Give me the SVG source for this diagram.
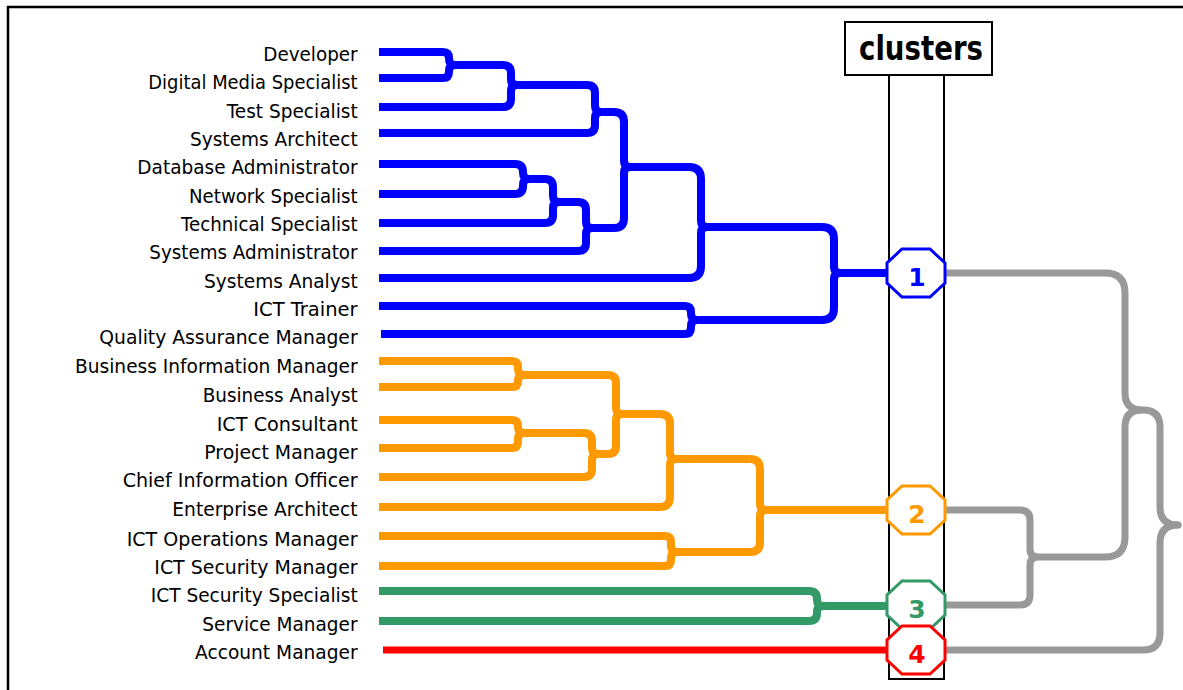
<svg xmlns="http://www.w3.org/2000/svg" width="1183" height="690" viewBox="0 0 1183 690">
<style>
.lbl{font-family:"DejaVu Sans","Liberation Sans",sans-serif;font-size:20px;fill:#000}
.ln{fill:none;stroke-width:8;stroke-linejoin:round;stroke-linecap:butt}
.b{stroke:#0000ff}.o{stroke:#ff9900}.g{stroke:#339966}.r{stroke:#ff0000;stroke-width:7}
.gr{fill:none;stroke:#999999;stroke-width:7;stroke-linejoin:round}
.oct{fill:#fff;stroke-width:3}
.num{font-family:"DejaVu Sans","Liberation Sans",sans-serif;font-size:25px;font-weight:bold;text-anchor:middle}
</style>
<defs>
<polygon id="octa" points="-14,-24 14,-24 29,-10 29,10 14,24 -14,24 -29,10 -29,-10"/>
</defs>
<rect x="0" y="0" width="1183" height="690" fill="#fff"/>
<rect x="8" y="7" width="1200" height="720" fill="none" stroke="#000" stroke-width="2.5"/>
<g id="clusters-header">
<rect x="889" y="75" width="55" height="604" fill="none" stroke="#000" stroke-width="2"/>
<rect x="845" y="22" width="147" height="53" fill="#fff" stroke="#000" stroke-width="2"/>
<text x="859" y="60" textLength="124" lengthAdjust="spacingAndGlyphs" style="font-family:'DejaVu Sans','Liberation Sans',sans-serif;font-size:33px;font-weight:bold">clusters</text>
</g>
<g id="connectors">
<path class="ln b" d="M379 52 H443 Q449 52 449 58 V59 Q449 65 455 65"/>
<path class="ln b" d="M379 78 H443 Q449 78 449 72 V71 Q449 65 455 65"/>
<path class="ln b" d="M455 65 H503 Q511 65 511 73 V79 Q511 85 517 85"/>
<path class="ln b" d="M379 107 H503 Q511 107 511 99 V91 Q511 85 517 85"/>
<path class="ln b" d="M517 85 H587 Q595 85 595 93 V106 Q595 112 601 112"/>
<path class="ln b" d="M379 133 H587 Q595 133 595 125 V118 Q595 112 601 112"/>
<path class="ln b" d="M379 164 H515 Q523 164 523 172 V173 Q523 179 529 179"/>
<path class="ln b" d="M379 194 H515 Q523 194 523 186 V185 Q523 179 529 179"/>
<path class="ln b" d="M529 179 H545 Q553 179 553 187 V196 Q553 202 559 202"/>
<path class="ln b" d="M379 223 H545 Q553 223 553 215 V208 Q553 202 559 202"/>
<path class="ln b" d="M559 202 H578 Q586 202 586 210 V222 Q586 228 592 228"/>
<path class="ln b" d="M379 251 H578 Q586 251 586 243 V234 Q586 228 592 228"/>
<path class="ln b" d="M601 112 H614 Q624 112 624 122 V161 Q624 167 630 167"/>
<path class="ln b" d="M592 228 H614 Q624 228 624 218 V173 Q624 167 630 167"/>
<path class="ln b" d="M630 167 H689 Q701 167 701 179 V221 Q701 227 707 227"/>
<path class="ln b" d="M379 278 H689 Q701 278 701 266 V233 Q701 227 707 227"/>
<path class="ln b" d="M379 306 H685 Q691 306 691 312 V314 Q691 320 697 320"/>
<path class="ln b" d="M381 334 H685 Q691 334 691 328 V326 Q691 320 697 320"/>
<path class="ln b" d="M707 227 H822 Q834 227 834 239 V267 Q834 273 840 273"/>
<path class="ln b" d="M697 320 H822 Q834 320 834 308 V279 Q834 273 840 273"/>
<path class="ln b" d="M840 273 H888"/>
<path class="ln o" d="M379 361 H512 Q518 361 518 367 V369 Q518 375 524 375"/>
<path class="ln o" d="M379 387 H512 Q518 387 518 381 V381 Q518 375 524 375"/>
<path class="ln o" d="M379 420 H512 Q518 420 518 426 V427 Q518 433 524 433"/>
<path class="ln o" d="M379 448 H512 Q518 448 518 442 V439 Q518 433 524 433"/>
<path class="ln o" d="M524 433 H584 Q592 433 592 441 V448 Q592 454 598 454"/>
<path class="ln o" d="M379 477 H584 Q592 477 592 469 V460 Q592 454 598 454"/>
<path class="ln o" d="M524 375 H608 Q616 375 616 383 V408 Q616 414 622 414"/>
<path class="ln o" d="M598 454 H608 Q616 454 616 446 V420 Q616 414 622 414"/>
<path class="ln o" d="M622 414 H660 Q670 414 670 424 V453 Q670 459 676 459"/>
<path class="ln o" d="M379 507 H660 Q670 507 670 497 V465 Q670 459 676 459"/>
<path class="ln o" d="M379 536 H665 Q671 536 671 542 V546 Q671 552 677 552"/>
<path class="ln o" d="M379 566 H665 Q671 566 671 560 V558 Q671 552 677 552"/>
<path class="ln o" d="M676 459 H750 Q760 459 760 469 V504 Q760 510 766 510"/>
<path class="ln o" d="M677 552 H750 Q760 552 760 542 V516 Q760 510 766 510"/>
<path class="ln o" d="M766 510 H888"/>
<path class="ln g" d="M379 591 H809 Q817 591 817 599 V600 Q817 606 823 606"/>
<path class="ln g" d="M379 621 H809 Q817 621 817 613 V612 Q817 606 823 606"/>
<path class="ln g" d="M823 606 H888"/>
<path class="ln r" d="M383 650 H888"/>
<path class="gr" d="M945 510 H1020 Q1030 510 1030 520 V549 Q1030 557 1038 557"/>
<path class="gr" d="M945 605 H1020 Q1030 605 1030 595 V565 Q1030 557 1038 557"/>
<path class="gr" d="M945 273 H1105 Q1125 273 1125 293 V393 Q1125 410 1142 410"/>
<path class="gr" d="M1038 557 H1105 Q1125 557 1125 537 V427 Q1125 410 1142 410"/>
<path class="gr" d="M1142 410 H1143 Q1160 410 1160 427 V507 Q1160 525 1178 525" stroke-linecap="round"/>
<path class="gr" d="M945 650 H1143 Q1160 650 1160 633 V543 Q1160 525 1178 525" stroke-linecap="round"/>
</g>
<g id="cluster-1"><use href="#octa" x="916" y="273" class="oct" stroke="#0000ff"/><text class="num" x="917" y="286" fill="#0000ff">1</text></g>
<g id="cluster-2"><use href="#octa" x="916" y="510" class="oct" stroke="#ff9900"/><text class="num" x="917" y="523" fill="#ff9900">2</text></g>
<g id="cluster-3"><use href="#octa" x="916" y="605" class="oct" stroke="#339966"/><text class="num" x="917" y="618" fill="#339966">3</text></g>
<g id="cluster-4"><use href="#octa" x="916" y="650" class="oct" stroke="#ff0000"/><text class="num" x="917" y="663" fill="#ff0000">4</text></g>
<g id="leaf-developer"><text class="lbl" x="263.3" y="61" textLength="94.3" lengthAdjust="spacingAndGlyphs">Developer</text></g>
<g id="leaf-digital-media-specialist"><text class="lbl" x="148.3" y="89" textLength="209.3" lengthAdjust="spacingAndGlyphs">Digital Media Specialist</text></g>
<g id="leaf-test-specialist"><text class="lbl" x="226.7" y="118" textLength="131" lengthAdjust="spacingAndGlyphs">Test Specialist</text></g>
<g id="leaf-systems-architect"><text class="lbl" x="190" y="146" textLength="167.7" lengthAdjust="spacingAndGlyphs">Systems Architect</text></g>
<g id="leaf-database-administrator"><text class="lbl" x="137.3" y="174" textLength="220.3" lengthAdjust="spacingAndGlyphs">Database Administrator</text></g>
<g id="leaf-network-specialist"><text class="lbl" x="189" y="203" textLength="168.7" lengthAdjust="spacingAndGlyphs">Network Specialist</text></g>
<g id="leaf-technical-specialist"><text class="lbl" x="181" y="231" textLength="176.7" lengthAdjust="spacingAndGlyphs">Technical Specialist</text></g>
<g id="leaf-systems-administrator"><text class="lbl" x="149.3" y="259" textLength="208.3" lengthAdjust="spacingAndGlyphs">Systems Administrator</text></g>
<g id="leaf-systems-analyst"><text class="lbl" x="204" y="288" textLength="153.7" lengthAdjust="spacingAndGlyphs">Systems Analyst</text></g>
<g id="leaf-ict-trainer"><text class="lbl" x="253.3" y="316" textLength="104.3" lengthAdjust="spacingAndGlyphs">ICT Trainer</text></g>
<g id="leaf-quality-assurance-manager"><text class="lbl" x="99.3" y="344" textLength="258.3" lengthAdjust="spacingAndGlyphs">Quality Assurance Manager</text></g>
<g id="leaf-business-information-manager"><text class="lbl" x="75" y="373" textLength="282.7" lengthAdjust="spacingAndGlyphs">Business Information Manager</text></g>
<g id="leaf-business-analyst"><text class="lbl" x="202.7" y="402" textLength="155" lengthAdjust="spacingAndGlyphs">Business Analyst</text></g>
<g id="leaf-ict-consultant"><text class="lbl" x="216.7" y="431" textLength="141" lengthAdjust="spacingAndGlyphs">ICT Consultant</text></g>
<g id="leaf-project-manager"><text class="lbl" x="204.3" y="459" textLength="153.3" lengthAdjust="spacingAndGlyphs">Project Manager</text></g>
<g id="leaf-chief-information-officer"><text class="lbl" x="122.7" y="487" textLength="235" lengthAdjust="spacingAndGlyphs">Chief Information Officer</text></g>
<g id="leaf-enterprise-architect"><text class="lbl" x="172.3" y="516" textLength="185.3" lengthAdjust="spacingAndGlyphs">Enterprise Architect</text></g>
<g id="leaf-ict-operations-manager"><text class="lbl" x="126.7" y="546" textLength="231" lengthAdjust="spacingAndGlyphs">ICT Operations Manager</text></g>
<g id="leaf-ict-security-manager"><text class="lbl" x="154.3" y="574" textLength="203.3" lengthAdjust="spacingAndGlyphs">ICT Security Manager</text></g>
<g id="leaf-ict-security-specialist"><text class="lbl" x="150.7" y="602" textLength="207" lengthAdjust="spacingAndGlyphs">ICT Security Specialist</text></g>
<g id="leaf-service-manager"><text class="lbl" x="202.3" y="631" textLength="155.3" lengthAdjust="spacingAndGlyphs">Service Manager</text></g>
<g id="leaf-account-manager"><text class="lbl" x="195" y="659" textLength="162.7" lengthAdjust="spacingAndGlyphs">Account Manager</text></g>
</svg>
